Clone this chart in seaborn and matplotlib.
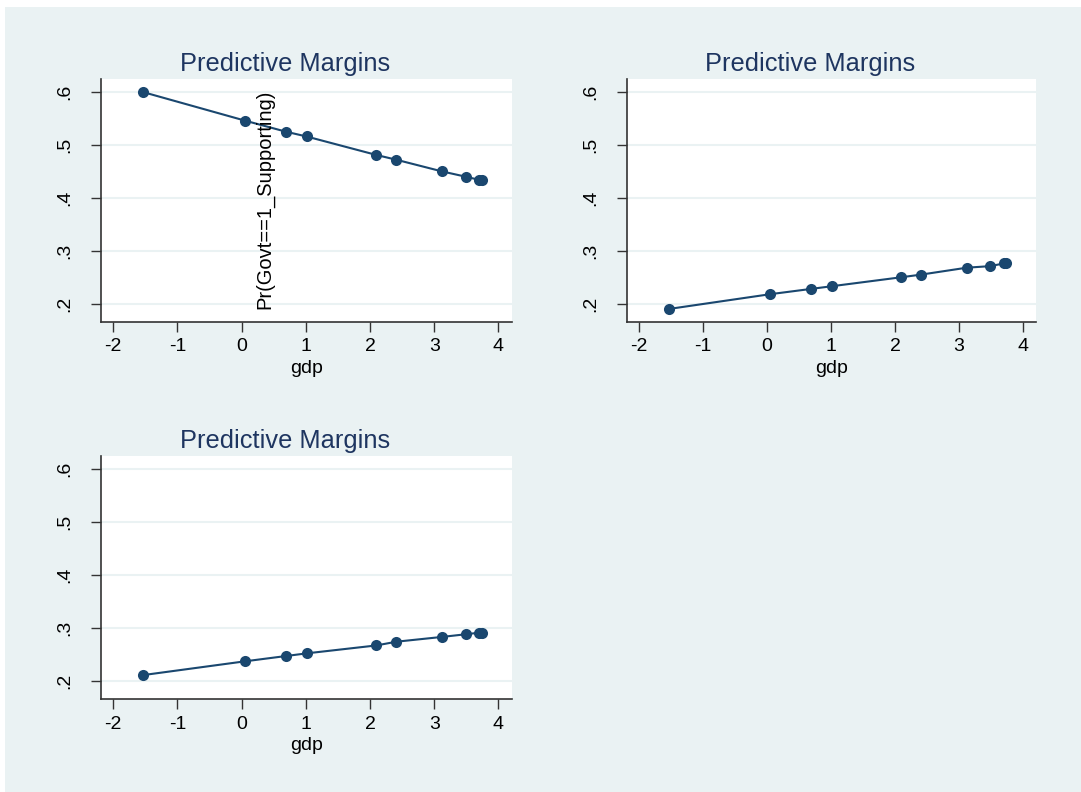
import matplotlib
matplotlib.use("Agg")
import matplotlib.pyplot as plt
import seaborn as sns
import pandas as pd
from matplotlib.patches import Rectangle

sns.set_theme(style="white")
plt.rcParams['font.family'] = ['Liberation Sans', 'DejaVu Sans']

gdp = [-1.54, 0.05, 0.69, 1.01, 2.10, 2.41, 3.12, 3.49, 3.70, 3.74]
pr_panel1 = [0.600, 0.546, 0.525, 0.516, 0.481, 0.472, 0.450, 0.440, 0.434, 0.433]
pr_panel2 = [0.190, 0.218, 0.228, 0.233, 0.250, 0.255, 0.268, 0.271, 0.276, 0.276]
pr_panel3 = [0.211, 0.237, 0.247, 0.252, 0.267, 0.274, 0.283, 0.288, 0.291, 0.291]
x_ticks = [-2, -1, 0, 1, 2, 3, 4]
y_ticks = [0.2, 0.3, 0.4, 0.5, 0.6]
y_tick_labels = [".2", ".3", ".4", ".5", ".6"]
title = "Predictive Margins"
xlabel = "gdp"
ylabel = "Pr(Govt==1_Supporting)"

W, H = 1081, 792
BG = "#EAF2F3"
NAVY = "#1A476F"
TITLE_C = "#1E3560"

fig = plt.figure(figsize=(W / 100, H / 100), dpi=100)
fig.patch.set_facecolor("white")
fig.patches.append(Rectangle((5 / W, 0), 1 - 5 / W, 1 - 7 / H, transform=fig.transFigure,
                             facecolor=BG, edgecolor="none", zorder=-10))

def px_axes(left, top, right, bottom):
    return fig.add_axes([left / W, 1 - bottom / H, (right - left) / W, (bottom - top) / H])

panels = [
    (px_axes(100.7, 79, 511.7, 321.7), pr_panel1),
    (px_axes(626.7, 79, 1036, 321.7), pr_panel2),
    (px_axes(100.7, 455.7, 511.7, 699), pr_panel3),
]

for i, (ax, vals) in enumerate(panels):
    df = pd.DataFrame({"gdp": gdp, "pr": vals})
    ax.set_facecolor("white")
    sns.lineplot(data=df, x="gdp", y="pr", ax=ax, color=NAVY, marker="o",
                 markersize=8, markeredgewidth=0, linewidth=1.5,
                 estimator=None, sort=False, zorder=3)
    ax.set_xlim(-2.196, 4.206)
    ax.set_ylim(0.166, 0.6246)
    ax.set_xticks(x_ticks)
    ax.set_xticklabels([str(t) for t in x_ticks])
    ax.set_yticks(y_ticks)
    ax.set_yticklabels(y_tick_labels, rotation=90, va="center")
    ax.grid(axis="y", color=BG, linewidth=1.5, zorder=0)
    ax.grid(axis="x", visible=False)
    for s in ["top", "right"]:
        ax.spines[s].set_visible(False)
    for s in ["left", "bottom"]:
        ax.spines[s].set_color("#333333")
        ax.spines[s].set_linewidth(1.2)
    ax.tick_params(axis="x", which="major", direction="out", length=7, width=1,
                   color="#333333", labelsize=14, labelcolor="black", pad=5, bottom=True)
    ax.tick_params(axis="y", which="major", direction="out", length=7, width=1,
                   color="#333333", labelsize=14, labelcolor="black", pad=13, left=True)
    ax.set_xlabel(xlabel, fontsize=14, color="black", labelpad=3)
    ax.set_ylabel("")
    ax.set_title(title, fontsize=18.3, color=TITLE_C, pad=5.5, x=0.448)
    if i == 0:
        ax.text(0.36, 0.397, ylabel, rotation=90, ha="center", va="center",
                fontsize=14.5, color="black", zorder=4)

fig.savefig("out.png", dpi=100, facecolor=fig.get_facecolor())
